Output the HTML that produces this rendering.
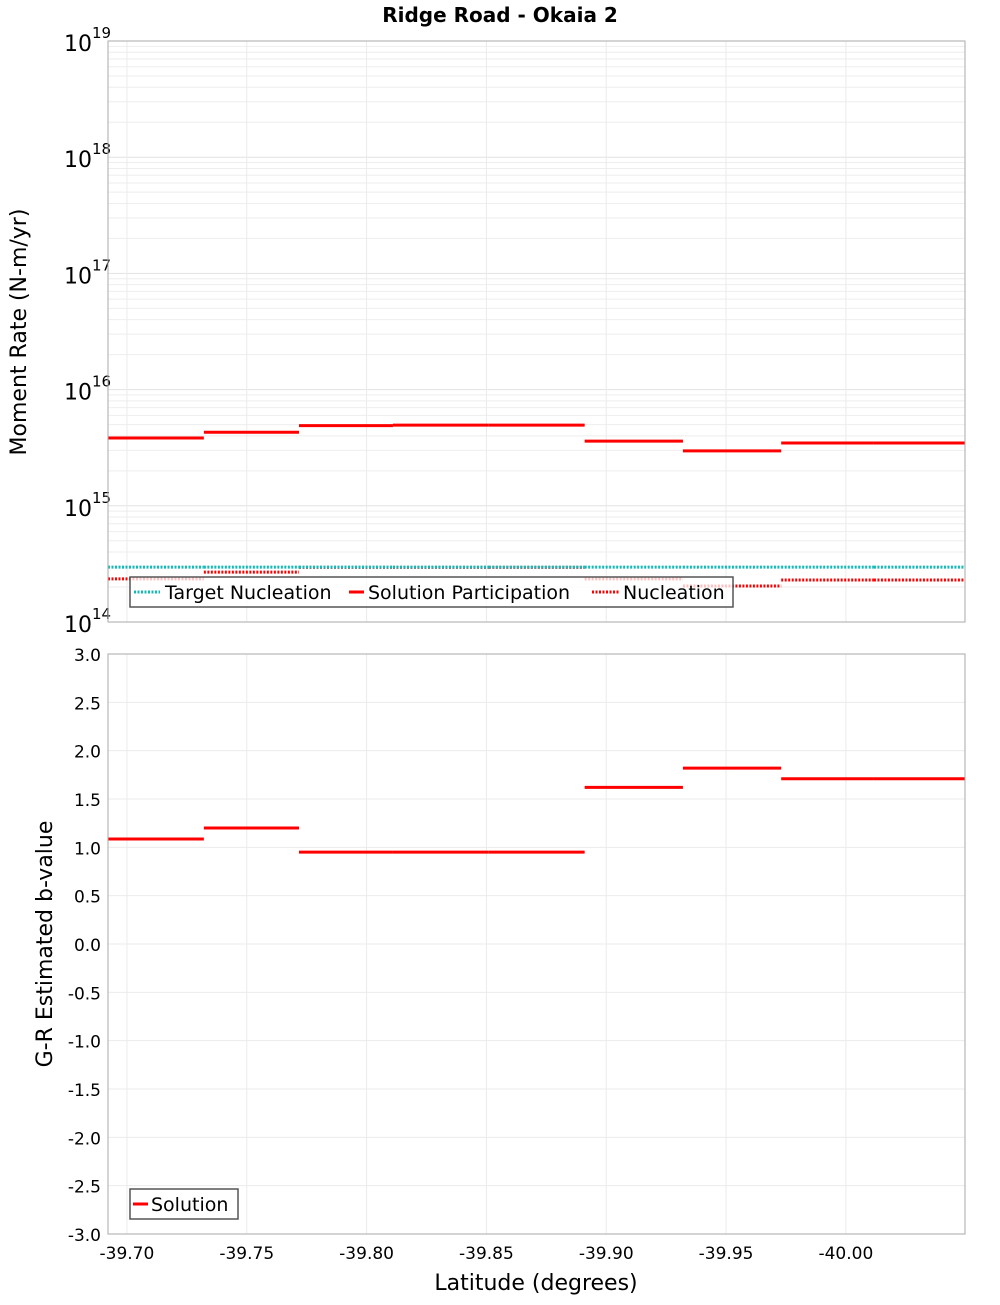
<!DOCTYPE html>
<html><head><meta charset="utf-8"><style>
body{margin:0;background:#fff;font-family:"Liberation Sans","DejaVu Sans",sans-serif}
</style></head><body>
<svg id="c" width="1000" height="1300" xmlns="http://www.w3.org/2000/svg" font-family="DejaVu Sans, Liberation Sans, sans-serif">
<text x="500" y="22" text-anchor="middle" font-size="20" font-weight="bold">Ridge Road - Okaia 2</text>
<g id="topPanel"></g>
<g id="botPanel"></g>
<text x="536" y="1290" text-anchor="middle" font-size="22">Latitude (degrees)</text>
<text transform="translate(26,332) rotate(-90)" text-anchor="middle" font-size="22">Moment Rate (N-m/yr)</text>
<text transform="translate(52,944) rotate(-90)" text-anchor="middle" font-size="22">G-R Estimated b-value</text>
</svg>
<script>
const bounds=[-39.6921,-39.7321,-39.7718,-39.811,-39.851,-39.891,-39.932,-39.973,-40.0117,-40.0497];
const partValues=[3.83e15,4.3e15,4.9e15,4.95e15,4.95e15,3.6e15,2.97e15,3.47e15,3.47e15];
const targetValues=[2.97e14,2.97e14,2.97e14,2.97e14,2.97e14,2.97e14,2.97e14,2.97e14,2.97e14];
const nuclValues=[2.35e14,2.69e14,2.95e14,2.95e14,2.95e14,2.35e14,2.04e14,2.3e14,2.3e14];
const bValues=[1.086,1.2,0.95,0.95,0.95,1.62,1.82,1.71,1.71];
const xTicks=[-39.70,-39.75,-39.80,-39.85,-39.90,-39.95,-40.00];
const bTicks=[3,2.5,2,1.5,1,0.5,0,-0.5,-1,-1.5,-2,-2.5,-3];
const NS='http://www.w3.org/2000/svg';
const X0=108,X1=965,L0=-39.6921,L1=-40.0497;
const x=v=>X0+(v-L0)/(L1-L0)*(X1-X0);
const TY0=41,TY1=622;const yLog=v=>TY1-(Math.log10(v)-14)/5*(TY1-TY0);
const BY0=654,BY1=1234;const yB=v=>BY1-(v+3)/6*(BY1-BY0);
function mk(p,t,a){const e=document.createElementNS(NS,t);for(const k in a)e.setAttribute(k,a[k]);p.appendChild(e);return e;}
const topG=document.getElementById('topPanel'),botG=document.getElementById('botPanel');
for(let d=14;d<19;d++)for(let m=1;m<10;m++){const yy=yLog(m*Math.pow(10,d));
const g=mk(topG,'line',{x1:X0,x2:X1,y1:yy,y2:yy,stroke:m==1?'#e2e2e2':'#eeeeee','stroke-width':1});

}
xTicks.forEach(t=>{const l=mk(topG,'line',{x1:x(t),x2:x(t),y1:TY0,y2:TY1,stroke:'#ebebeb'});


const l2=mk(botG,'line',{x1:x(t),x2:x(t),y1:BY0,y2:BY1,stroke:'#ebebeb'});


const tx=mk(botG,'text',{x:x(t),y:1259,'text-anchor':'middle','font-size':17});tx.textContent=t.toFixed(2);

});
for(let d=14;d<=19;d++){const tt=mk(topG,'text',{x:64,y:yLog(Math.pow(10,d))+10,'font-size':22});
tt.innerHTML='10<tspan dy="-13" font-size="15">'+d+'</tspan>';

}
function steps(p,vals,yf,attrs,name){for(let i=0;i<vals.length;i++){
const l=mk(p,'line',Object.assign({x1:x(bounds[i]),x2:x(bounds[i+1]),y1:yf(vals[i]),y2:yf(vals[i])},attrs));

}}
steps(topG,nuclValues,yLog,{stroke:'#f00','stroke-width':3,'stroke-dasharray':'2 1.5'},'nucleation-step');
steps(topG,targetValues,yLog,{stroke:'#11bbbb','stroke-width':3,'stroke-dasharray':'2 1.5'},'target-nucleation-step');
steps(topG,partValues,yLog,{stroke:'#f00','stroke-width':3},'participation-step');
mk(topG,'rect',{x:X0,y:TY0,width:X1-X0,height:TY1-TY0,fill:'none',stroke:'#aaa'});
const lg=mk(topG,'g',{});
mk(lg,'rect',{x:130,y:577,width:603,height:30,fill:'rgba(255,255,255,0.75)',stroke:'#555','stroke-width':1.5});
mk(lg,'line',{x1:134,x2:160,y1:592,y2:592,stroke:'#11bbbb','stroke-width':3,'stroke-dasharray':'2 1.5'});
mk(lg,'line',{x1:349,x2:364,y1:592,y2:592,stroke:'#f00','stroke-width':3});
mk(lg,'line',{x1:592,x2:619,y1:592,y2:592,stroke:'#f00','stroke-width':3,'stroke-dasharray':'2 1.5'});
[['Target Nucleation',165],['Solution Participation',368],['Nucleation',623]].forEach(([s,xx])=>{const t=mk(lg,'text',{x:xx,y:599,'font-size':19});t.textContent=s;

});
bTicks.forEach(t=>{const l=mk(botG,'line',{x1:X0,x2:X1,y1:yB(t),y2:yB(t),stroke:'#ebebeb'});


const tx=mk(botG,'text',{x:101,y:yB(t)+7,'text-anchor':'end','font-size':17});tx.textContent=t.toFixed(1);

});
steps(botG,bValues,yB,{stroke:'#f00','stroke-width':3},'b-value-step');
mk(botG,'rect',{x:X0,y:BY0,width:X1-X0,height:BY1-BY0,fill:'none',stroke:'#aaa'});
const lb=mk(botG,'g',{});
mk(lb,'rect',{x:130,y:1189,width:108,height:30,fill:'#fff',stroke:'#555','stroke-width':1.5});
mk(lb,'line',{x1:133,x2:148,y1:1204,y2:1204,stroke:'#f00','stroke-width':3});
const st=mk(lb,'text',{x:151,y:1211,'font-size':19});st.textContent='Solution';


</script>
</body></html>
